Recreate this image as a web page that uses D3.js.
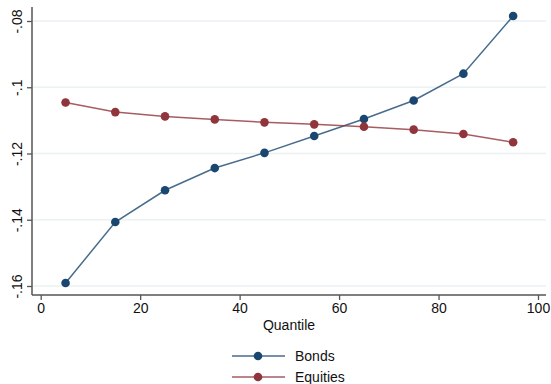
<!doctype html>
<html>
<head>
<script src="https://cdn.jsdelivr.net/npm/d3@7"></script>
<style>
  body { margin: 0; background: #fff; }
  text { font-family: "Liberation Sans", Arial, Helvetica, sans-serif; fill: #111; }
</style>
</head>
<body>
<svg width="551" height="384"></svg>
<script>
// data
var quantiles = [5, 15, 25, 35, 45, 55, 65, 75, 85, 95];
var bonds = [-0.1591, -0.1407, -0.1311, -0.1244, -0.1198, -0.1147, -0.1096, -0.1040, -0.0959, -0.0785];
var equities = [-0.1046, -0.1075, -0.1088, -0.1097, -0.1106, -0.1112, -0.1119, -0.1128, -0.1141, -0.1166];
var xTicks = [0, 20, 40, 60, 80, 100];
var yTicks = [-0.16, -0.14, -0.12, -0.10, -0.08];
var yTickLabels = ["-.16", "-.14", "-.12", "-.1", "-.08"];
var seriesNames = ["Bonds", "Equities"];
var colors = ["#1a476f", "#90353b"];

var svg = d3.select("svg");

var xScale = d3.scaleLinear().domain([0, 100]).range([40.7, 538]);
var yScale = d3.scaleLinear().domain([-0.16, -0.08]).range([286, 21]);

var axisX = 32, axisY = 295;

// gridlines
svg.append("g")
  .selectAll("line")
  .data(yTicks)
  .enter()
  .append("line")
  .attr("x1", axisX + 1)
  .attr("x2", 546)
  .attr("y1", function (d) { return yScale(d); })
  .attr("y2", function (d) { return yScale(d); })
  .style("stroke", "#eaf2f3")
  .style("stroke-width", 1.5);

// y axis
var gy = svg.append("g")
  .attr("transform", "translate(" + axisX + ",0)")
  .call(d3.axisLeft(yScale).tickValues(yTicks).tickSize(5)
    .tickFormat(function (d, i) { return yTickLabels[i]; }));
gy.select(".domain").remove();
gy.selectAll(".tick line").style("stroke", "#555").style("stroke-width", 1.3);
gy.selectAll(".tick text")
  .attr("x", 0).attr("y", 0).attr("dy", null)
  .attr("transform", "translate(-10,0) rotate(-90)")
  .attr("text-anchor", "middle")
  .style("font-size", "14px")
  .style("font-family", "Liberation Sans, Arial, sans-serif")
  .style("fill", "#111");

// x axis
var gx = svg.append("g")
  .attr("transform", "translate(0," + axisY + ")")
  .call(d3.axisBottom(xScale).tickValues(xTicks).tickSize(5));
gx.select(".domain").remove();
gx.selectAll(".tick line").style("stroke", "#555").style("stroke-width", 1.3);
gx.selectAll(".tick text")
  .attr("y", 8)
  .style("font-size", "14px")
  .style("font-family", "Liberation Sans, Arial, sans-serif")
  .style("fill", "#111");

// axis lines
svg.append("line")
  .attr("x1", axisX).attr("x2", axisX).attr("y1", 7).attr("y2", axisY)
  .style("stroke", "#555").style("stroke-width", 1.5);
svg.append("line")
  .attr("x1", axisX).attr("x2", 546).attr("y1", axisY).attr("y2", axisY)
  .style("stroke", "#555").style("stroke-width", 1.5);

// x title
svg.append("text")
  .attr("x", 289)
  .attr("y", 330)
  .attr("text-anchor", "middle")
  .style("font-size", "14px")
  .text("Quantile");

// series
var series = [bonds, equities];
var line = d3.line()
  .x(function (d, i) { return xScale(quantiles[i]); })
  .y(function (d) { return yScale(d); });

series.forEach(function (vals, s) {
  svg.append("path")
    .datum(vals)
    .attr("d", line)
    .style("fill", "none")
    .style("stroke", colors[s])
    .style("stroke-opacity", 0.8)
    .style("stroke-width", 1.5);
  svg.append("g")
    .selectAll("circle")
    .data(vals)
    .enter()
    .append("circle")
    .attr("cx", function (d, i) { return xScale(quantiles[i]); })
    .attr("cy", function (d) { return yScale(d); })
    .attr("r", 4.3)
    .style("fill", colors[s]);
});

// legend
var legend = svg.append("g");
seriesNames.forEach(function (name, i) {
  var ly = 356 + i * 21;
  legend.append("line")
    .attr("x1", 232).attr("x2", 285).attr("y1", ly).attr("y2", ly)
    .style("stroke", colors[i]).style("stroke-opacity", 0.8).style("stroke-width", 1.5);
  legend.append("circle")
    .attr("cx", 258).attr("cy", ly).attr("r", 4.3)
    .style("fill", colors[i]);
  legend.append("text")
    .attr("x", 295).attr("y", ly + 5)
    .style("font-size", "14px")
    .text(name);
});
</script>
</body>
</html>
